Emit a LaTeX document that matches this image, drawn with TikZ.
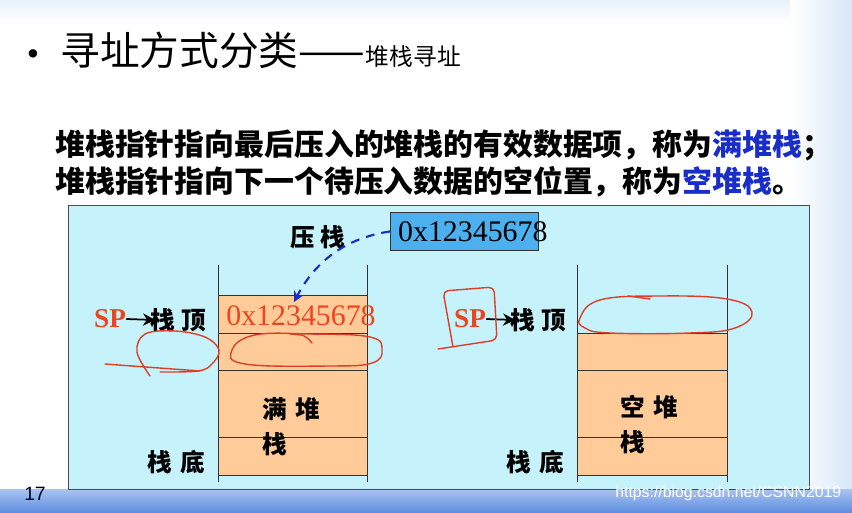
\documentclass[tikz,border=0pt]{standalone}
\usepackage{fontspec}
\setmainfont{Liberation Serif}
\setsansfont{Liberation Sans}
\newfontfamily\cjk{Noto Sans CJK SC}
\usetikzlibrary{arrows.meta}
\definecolor{panelcyan}{RGB}{198,243,251}
\definecolor{cellorange}{RGB}{255,204,153}
\definecolor{boxblue}{RGB}{77,176,238}
\definecolor{spred}{RGB}{238,68,30}
\definecolor{inkred}{RGB}{222,62,40}
\definecolor{termblue}{RGB}{25,45,200}
\definecolor{edgeblue}{RGB}{214,232,248}
\definecolor{stripbluetop}{RGB}{170,196,240}
\definecolor{stripbluebot}{RGB}{92,140,224}

\begin{document}
\begin{tikzpicture}[x=0.02cm,y=-0.02cm,
  lbl/.style={font=\cjk\bfseries\fontsize{14}{16}\selectfont,inner sep=0pt},
  hex/.style={font=\fontsize{17}{20}\selectfont,inner sep=0pt},
  sptext/.style={font=\bfseries\fontsize{15.5}{18}\selectfont,text=spred,inner sep=0pt},
  ink/.style={draw=inkred,line width=0.8pt,line cap=round,line join=round}]
\useasboundingbox (0,0) rectangle (852,513);
\fill[white] (0,0) rectangle (852,513);
\shade[top color=edgeblue!60,bottom color=white] (0,0) rectangle (852,22);
\shade[left color=white,right color=edgeblue] (790,0) rectangle (852,490);
\shade[top color=stripbluetop,bottom color=stripbluebot] (0,489) rectangle (852,513);

\node[font=\fontsize{20}{24}\selectfont,anchor=base] (bullet) at (33,66) {\textbullet};
\node[font=\cjk\fontsize{22.6}{26}\selectfont,anchor=base west,inner sep=0pt] (title) at (60,66) {寻址方式分类——};
\node[font=\cjk\fontsize{13.5}{16}\selectfont,anchor=base west,inner sep=0pt] (subtitle) at (title.base east) {堆栈寻址};
\node[font=\cjk\bfseries\fontsize{17}{20}\selectfont,anchor=west,inner sep=0pt] (fullline) at (55,145)
  {堆栈指针指向最后压入的堆栈的有效数据项，称为\textcolor{termblue}{满堆栈}；};
\node[font=\cjk\bfseries\fontsize{17}{20}\selectfont,anchor=west,inner sep=0pt] (emptyline) at (55,182)
  {堆栈指针指向下一个待压入数据的空位置，称为\textcolor{termblue}{空堆栈}。};

\draw[fill=panelcyan,draw=black!70] (68,205) rectangle (809,489);
\foreach \xl/\xr/\ytop in {218/367/295,577/727/333}{
  \fill[cellorange] (\xl,\ytop) rectangle (\xr,475);
  \draw[black!80] (\xl,265) -- (\xl,482) (\xr,265) -- (\xr,482);
  \foreach \y in {\ytop,333,370,437,475} \draw[black!80] (\xl,\y) -- (\xr,\y);
}

\node[lbl] (push) at (318,237) {压\hspace{3pt}栈};
\node[draw=black!80,fill=boxblue,minimum width=84.5pt,minimum height=22pt,inner sep=0pt] (val) at (464.5,231.5) {};
\node[hex,anchor=west] (valtext) at ([xshift=4.5pt]val.west) {0x12345678};
\node[hex,text=spred] (fullval) at (301,316) {0x12345678};
\draw[termblue,line width=1.2pt,dash pattern=on 5pt off 4pt,-{Stealth[length=6pt,width=6pt]}]
  (val.west) .. controls (352,237) and (318,256) .. ([xshift=-4pt,yshift=2pt]fullval.north);

\node[sptext] (sp1) at (110,319) {SP};
\node[lbl,anchor=west] (top1) at (150,320) {栈\hspace{4pt}顶};
\draw[line width=1pt,-{Stealth[length=7pt,width=7pt]}] (sp1.east) -- ([xshift=3pt]top1.west);
\node[lbl] (base1) at (176,462) {栈\hspace{5pt}底};
\node[lbl,align=left,anchor=north west] (fulllabel) at (262,397) {满\hspace{5pt}堆\\[4pt]栈};

\node[sptext] (sp2) at (470,319) {SP};
\node[lbl,anchor=west] (top2) at (510,320) {栈\hspace{4pt}顶};
\draw[line width=1pt,-{Stealth[length=7pt,width=7pt]}] (sp2.east) -- ([xshift=3pt]top2.west);
\node[lbl] (base2) at (535,462) {栈\hspace{5pt}底};
\node[lbl,align=left,anchor=north west] (emptylabel) at (620,395) {空\hspace{5pt}堆\\[4pt]栈};

\draw[ink] plot[smooth,tension=0.6] coordinates {(150,376) (137,352) (145,334) (175,331) (205,337) (219,350) (212,364) (198,371) (160,372)};
\draw[ink] (105,364) -- (200,371);
\draw[ink] plot[smooth cycle,tension=0.7] coordinates {(232,350) (255,335) (310,334) (370,337) (382,350) (372,363) (330,366) (245,364)};
\draw[ink] (290,334) .. controls (305,335) .. (312,343);
\draw[ink,rounded corners=3pt] (453,347) -- (443,291) -- (494,287) -- (497,340) -- (438,349);
\draw[ink] plot[smooth cycle,tension=0.7] coordinates {(580,318) (600,300) (660,296) (727,299) (752,312) (735,328) (690,333) (610,333) (585,328)};
\draw[ink] (628,296) -- (650,299);

\node[font=\sffamily\fontsize{11}{13}\selectfont,text=black!85!blue] (pagenum) at (35,494) {17};
\node[font=\sffamily\fontsize{9}{11}\selectfont,text=white,anchor=west,inner sep=0pt] (mark) at (615,493) {https://blog.csdn.net/CSNN2019};
\end{tikzpicture}
\end{document}
